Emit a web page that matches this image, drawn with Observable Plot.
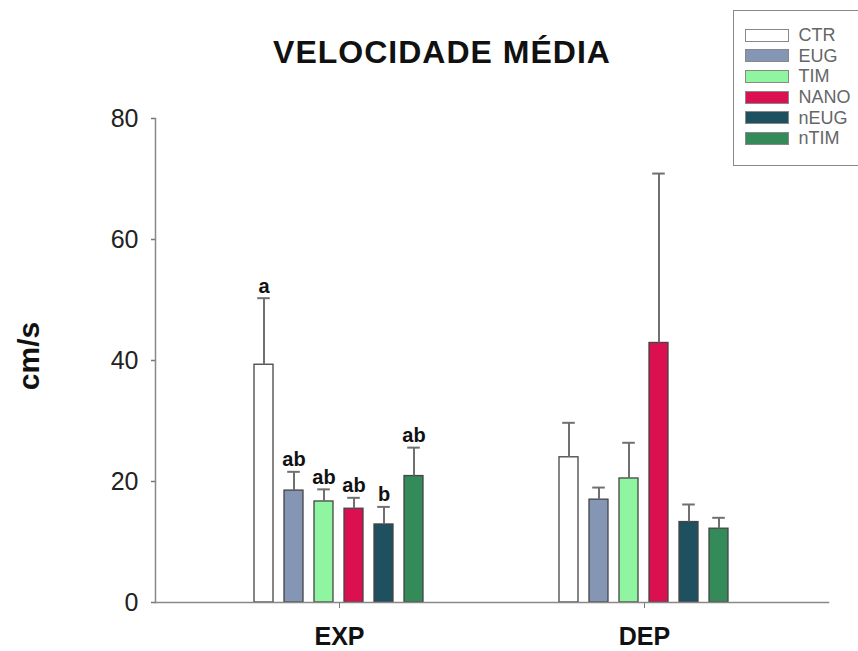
<!DOCTYPE html>
<html>
<head>
<meta charset="utf-8">
<script src="https://cdn.jsdelivr.net/npm/d3@7"></script>
<script src="https://cdn.jsdelivr.net/npm/@observablehq/plot@0.6"></script>
<style>
  html, body { margin: 0; padding: 0; background: #fff; overflow: hidden; }
  #wrap { position: relative; width: 858px; height: 651px; font-family: "Liberation Sans", Arial, sans-serif; }
  #chart { position: absolute; left: 0; top: 0; }
  #title { position: absolute; left: 0; top: 36px; width: 884px; text-align: center; font-size: 32px; line-height: 32px; font-weight: bold; letter-spacing: 1px; color: #111; }
  #ylabel { position: absolute; left: 29px; top: 356px; transform: translate(-50%, -50%) rotate(-90deg); font-size: 30px; font-weight: bold; color: #111; white-space: nowrap; }
  #legend { position: absolute; left: 733px; top: 10px; width: 135px; height: 156px; box-sizing: border-box; border: 1.5px solid #888; background: #fff; padding-top: 14px; padding-left: 10.5px; }
  .row { display: flex; align-items: center; height: 20.6px; }
  .sw { width: 44px; height: 13px; box-sizing: border-box; border: 1.5px solid #888; margin-right: 10px; }
  .lt { font-size: 18px; color: #666; line-height: 18px; }
</style>
</head>
<body>
<div id="wrap">
  <div id="chart"></div>
  <div id="title">VELOCIDADE MÉDIA</div>
  <div id="ylabel">cm/s</div>
  <div id="legend"></div>
</div>
<script>
const groups = ["EXP", "DEP"];
const series = ["CTR", "EUG", "TIM", "NANO", "nEUG", "nTIM"];
const colors = ["#ffffff", "#8496b4", "#90f5a0", "#da1050", "#1e5060", "#358a5a"];
const expMeans = [39.3, 18.5, 16.7, 15.5, 12.9, 20.9];
const expUpper = [50.3, 21.6, 18.7, 17.3, 15.8, 25.6];
const depMeans = [24.0, 17.0, 20.5, 42.9, 13.3, 12.2];
const depUpper = [29.7, 19.0, 26.4, 70.9, 16.2, 14.0];
const expLetters = ["a", "ab", "ab", "ab", "b", "ab"];
const yTicks = [0, 20, 40, 60, 80];

const data = groups.flatMap((g, gi) => series.map((s, i) => ({
  group: g,
  series: s,
  mean: gi ? depMeans[i] : expMeans[i],
  upper: gi ? depUpper[i] : expUpper[i],
  letter: gi ? "" : expLetters[i]
})));

const errColor = "#707070";

const chart = Plot.plot({
  width: 858,
  height: 651,
  marginTop: 118,
  marginBottom: 49,
  marginLeft: 154,
  marginRight: 29,
  style: { fontFamily: "'Liberation Sans', Arial, sans-serif", background: "transparent", overflow: "visible" },
  fx: { domain: groups, paddingInner: -0.206, paddingOuter: 0, label: null },
  x: { domain: series, paddingInner: 0.365, paddingOuter: 3.19, axis: null },
  y: { domain: [0, 80], label: null, axis: null },
  color: { domain: series, range: colors },
  marks: [
    Plot.axisY({ ticks: yTicks, tickSize: 4, tickPadding: 13, fontSize: 25, fill: "#222", stroke: "#777", strokeWidth: 1.5, label: null }),
    Plot.axisFx({ anchor: "bottom", tickSize: 6, tickPadding: 19, fontSize: 25, fontWeight: "bold", fill: "#111", stroke: "#777", label: null }),
    Plot.barY(data, { fx: "group", x: "series", y: "mean", fill: "series", stroke: "#444", strokeWidth: 1.3 }),
    Plot.ruleX(data, { fx: "group", x: "series", y1: "mean", y2: "upper", stroke: errColor, strokeWidth: 2 }),
    Plot.tickY(data, { fx: "group", x: "series", y: "upper", stroke: errColor, strokeWidth: 2, insetLeft: 3.2, insetRight: 3.2 }),
    Plot.text(data.filter(d => d.letter), { fx: "group", x: "series", y: "upper", text: "letter", fontSize: 20, fontWeight: "bold", fill: "#111", dy: -12 }),
    Plot.frame({ anchor: "left", facet: "super", stroke: "#888", strokeWidth: 1.5 }),
    Plot.frame({ anchor: "bottom", facet: "super", stroke: "#888", strokeWidth: 1.5 })
  ]
});
document.getElementById("chart").appendChild(chart);

const legend = document.getElementById("legend");
series.forEach((s, i) => {
  const row = document.createElement("div");
  row.className = "row";
  const sw = document.createElement("div");
  sw.className = "sw";
  sw.style.background = colors[i];
  const t = document.createElement("span");
  t.className = "lt";
  t.textContent = s;
  row.appendChild(sw);
  row.appendChild(t);
  legend.appendChild(row);
});
</script>
</body>
</html>
